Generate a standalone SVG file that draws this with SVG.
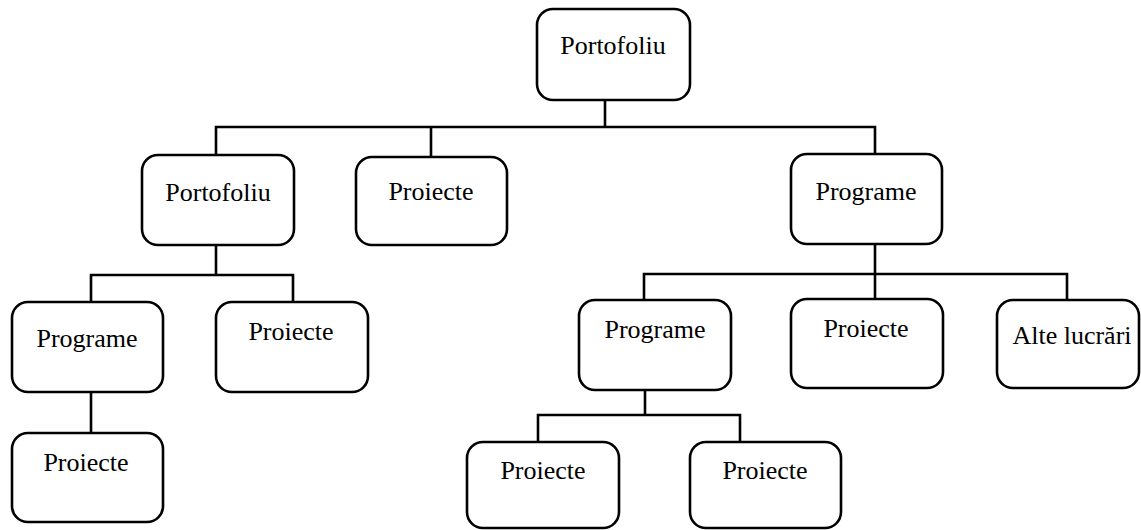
<svg xmlns="http://www.w3.org/2000/svg" width="1141" height="530" viewBox="0 0 1141 530">
<style>
.box{fill:#fff;stroke:#000;stroke-width:2.6}
.lbl{font-family:"Liberation Serif","Times New Roman",serif;font-size:26px;fill:#000;text-anchor:middle}
.con{fill:none;stroke:#000;stroke-width:2.6;stroke-linejoin:miter}
</style>
<rect width="1141" height="530" fill="#fff"/>
<g id="connectors" class="con">
<path d="M605,100V127"/>
<path d="M216,155V127H875V154"/>
<path d="M431,127V157"/>
<path d="M216,245V275"/>
<path d="M91,302V275H293V302"/>
<path d="M91,392V433"/>
<path d="M875,244V299"/>
<path d="M644,300V274H1067V300"/>
<path d="M645,390V415"/>
<path d="M538,442V415H740V442"/>
</g>
<g id="n1"><rect class="box" x="537" y="9" width="153" height="91" rx="16"/><text class="lbl" x="613" y="54">Portofoliu</text></g>
<g id="n2"><rect class="box" x="142" y="155" width="152" height="90" rx="16"/><text class="lbl" x="218" y="201">Portofoliu</text></g>
<g id="n3"><rect class="box" x="356" y="157" width="151" height="88" rx="16"/><text class="lbl" x="431" y="200">Proiecte</text></g>
<g id="n4"><rect class="box" x="791" y="154" width="151" height="90" rx="16"/><text class="lbl" x="866" y="200">Programe</text></g>
<g id="n5"><rect class="box" x="12" y="302" width="151" height="90" rx="16"/><text class="lbl" x="87" y="347">Programe</text></g>
<g id="n6"><rect class="box" x="216" y="302" width="152" height="90" rx="16"/><text class="lbl" x="291" y="340">Proiecte</text></g>
<g id="n7"><rect class="box" x="12" y="433" width="151" height="89" rx="16"/><text class="lbl" x="86" y="471">Proiecte</text></g>
<g id="n8"><rect class="box" x="579" y="300" width="152" height="90" rx="16"/><text class="lbl" x="655" y="338">Programe</text></g>
<g id="n9"><rect class="box" x="791" y="299" width="152" height="89" rx="16"/><text class="lbl" x="866" y="337">Proiecte</text></g>
<g id="n10"><rect class="box" x="997" y="300" width="142" height="88" rx="16"/><text class="lbl" x="1072" y="344">Alte lucrări</text></g>
<g id="n11"><rect class="box" x="467" y="442" width="152" height="86" rx="16"/><text class="lbl" x="543" y="479">Proiecte</text></g>
<g id="n12"><rect class="box" x="690" y="442" width="151" height="86" rx="16"/><text class="lbl" x="765" y="479">Proiecte</text></g>
</svg>
